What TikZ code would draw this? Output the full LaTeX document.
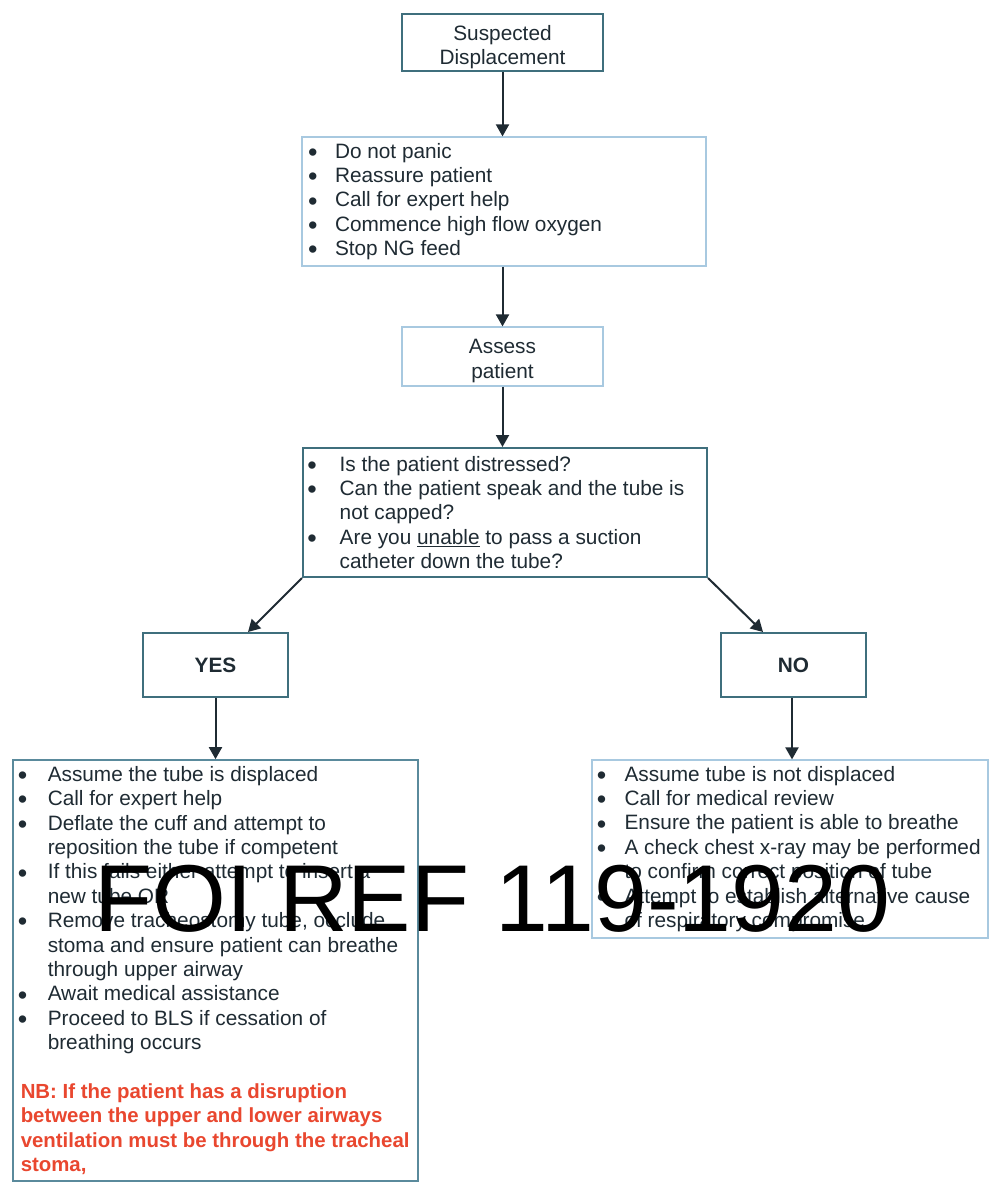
\documentclass[tikz,border=0pt]{standalone}
\usepackage{fontspec}
\setmainfont{Liberation Sans}
\usetikzlibrary{arrows.meta}

\definecolor{ink}{HTML}{1F2B33}
\definecolor{edgedark}{HTML}{3F6F7D}
\definecolor{edgemid}{HTML}{5A8A9C}
\definecolor{edgelight}{HTML}{A8C9E0}
\definecolor{notered}{HTML}{E9472F}

% bullet lists built line by line
\newlength\bulind
\newcommand\bigdot{\raisebox{-3.3pt}{\fontsize{27}{27}\selectfont\textbullet}}
\newcommand\bl[1]{\hbox{\makebox[\bulind][l]{\hspace{-0.8pt}\bigdot}#1}}
\newcommand\cl[1]{\hbox{\hspace{\bulind}#1}}
\newcommand\nbline[1]{\hbox{\hspace{2pt}\color{notered}\fontsize{20.4}{24.4}\selectfont\bfseries #1}}

\tikzset{
  body/.style={font=\fontsize{20.8}{24.4}\selectfont, text=ink, inner sep=0pt},
  darkbox/.style={draw=edgedark, line width=2pt, fill=white, inner sep=0pt},
  midbox/.style={draw=edgemid, line width=1.7pt, fill=white, inner sep=0pt},
  lightbox/.style={draw=edgelight, line width=1.2pt, fill=white, inner sep=0pt},
  flow/.style={draw=ink, line width=2pt, -{Triangle[length=12pt,width=13pt]}},
}

\begin{document}
\begin{tikzpicture}[x=1pt, y=-1pt]
  \fill[white] (0,0) rectangle (989,1182);
  \useasboundingbox (0,0) rectangle (989,1182);

  % top of the chart
  \node[darkbox, minimum width=201pt, minimum height=57pt] (susp) at (502.5,42.5) {};
  \node[body, align=center] (susptxt) at ([yshift=-4.5pt]susp.center)
    {Suspected\\Displacement};

  \node[lightbox, minimum width=404pt, minimum height=129pt] (first) at (504,201.5) {};
  \node[body, anchor=west] (firsttxt) at ([xshift=7.4pt]first.west)
    {\setlength\bulind{26pt}\vbox{%
      \bl{Do not panic}
      \bl{Reassure patient}
      \bl{Call for expert help}
      \bl{Commence high flow oxygen}
      \bl{Stop NG feed}}};

  \node[lightbox, minimum width=201pt, minimum height=59pt] (assess) at (502.5,356.5) {};
  \node[body, align=center] (assesstxt) at ([yshift=-4.5pt]assess.center)
    {Assess\\patient};

  \node[darkbox, minimum width=404pt, minimum height=129pt] (quest) at (505,512.5) {};
  \node[body, anchor=west] (questtxt) at ([xshift=6pt]quest.west)
    {\setlength\bulind{31.5pt}\vbox{%
      \bl{Is the patient distressed?}
      \bl{Can the patient speak and the tube is}
      \cl{not capped?}
      \bl{Are you \underline{unable} to pass a suction}
      \cl{catheter down the tube?}}};

  % decision
  \node[darkbox, body, font=\fontsize{20.8}{24.4}\selectfont\bfseries,
        minimum width=145pt, minimum height=64pt] (yes) at (215.5,665) {YES};
  \node[darkbox, body, font=\fontsize{20.8}{24.4}\selectfont\bfseries,
        minimum width=145pt, minimum height=64pt] (no) at (793.5,665) {NO};

  % outcome lists
  \node[midbox, minimum width=405pt, minimum height=421pt] (yeslist) at (215.5,970.5) {};
  \node[body, anchor=west] (yestxt) at ([xshift=6.4pt]yeslist.west)
    {\setlength\bulind{29pt}\vbox{%
      \bl{Assume the tube is displaced}
      \bl{Call for expert help}
      \bl{Deflate the cuff and attempt to}
      \cl{reposition the tube if competent}
      \bl{If this fails either attempt to insert a}
      \cl{new tube OR}
      \bl{Remove tracheostomy tube, occlude}
      \cl{stoma and ensure patient can breathe}
      \cl{through upper airway}
      \bl{Await medical assistance}
      \bl{Proceed to BLS if cessation of}
      \cl{breathing occurs}
      \vskip 24.4pt
      \nbline{NB: If the patient has a disruption}
      \nbline{between the upper and lower airways}
      \nbline{ventilation must be through the tracheal}
      \nbline{stoma,}}};

  \node[lightbox, minimum width=396pt, minimum height=178pt] (nolist) at (790,849) {};
  \node[body, anchor=west] (notxt) at ([xshift=6pt]nolist.west)
    {\setlength\bulind{27pt}\vbox{%
      \bl{Assume tube is not displaced}
      \bl{Call for medical review}
      \bl{Ensure the patient is able to breathe}
      \bl{A check chest x-ray may be performed}
      \cl{to confirm correct position of tube}
      \bl{Attempt to establish alternative cause}
      \cl{of respiratory compromise}}};

  % connectors
  \draw[flow] (susp.south) -- (susp.south |- first.north);
  \draw[flow] (assess.north |- first.south) -- (assess.north);
  \draw[flow] (assess.south) -- (assess.south |- quest.north);
  \draw[flow] (quest.south west) -- ([xshift=32.5pt]yes.north);
  \draw[flow] (quest.south east) -- ([xshift=-30.5pt]no.north);
  \draw[flow] (yes.south) -- (yes.south |- yeslist.north);
  \draw[flow] ([xshift=-1.5pt]no.south) -- ([xshift=-1.5pt]no.south |- nolist.north);

  % reference stamp laid over the chart
  \node[anchor=base west, inner sep=0pt, text=black,
        font=\fontsize{95}{95}\selectfont] (stamp) at (94.5,931) {FOI REF 119-1920};
\end{tikzpicture}
\end{document}
